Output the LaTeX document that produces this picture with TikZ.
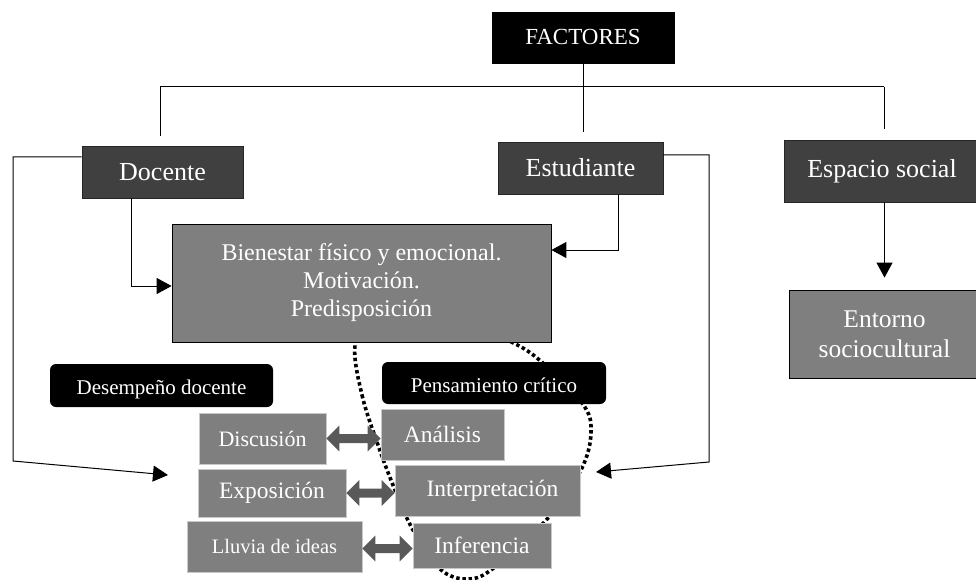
\documentclass[tikz,border=0pt]{standalone}
\usepackage{fontspec}
\setmainfont{Liberation Serif}
\usetikzlibrary{arrows.meta,calc}
\definecolor{dk}{HTML}{404040}
\definecolor{md}{HTML}{7F7F7F}
\definecolor{lt}{HTML}{C8C8C8}
\definecolor{ag}{HTML}{595959}
\begin{document}
\begin{tikzpicture}[x=1pt,y=-1pt,
  base/.style={inner sep=0pt, align=center, text=white},
  blk/.style={base, fill=black, draw=black},
  dkb/.style={base, fill=dk, draw=black!85, line width=0.8pt, font=\fontsize{26}{30}\selectfont},
  mdb/.style={base, fill=md, draw=black, line width=0.8pt},
  smb/.style={base, fill=md, draw=lt, line width=0.8pt, font=\fontsize{23.5}{27}\selectfont},
  rnd/.style={base, fill=black, rounded corners=6pt},
  con/.style={draw=black, line width=1pt},
  arr/.style={con, -{Triangle[length=15pt,width=16pt]}},
  dots/.style={draw=black, line width=3.6pt, dash pattern=on 3.4pt off 2.8pt},
  dbl/.style={fill=ag, draw=none}
]
\useasboundingbox (0,0) rectangle (976,580);

% dotted loop (behind everything)
\draw[dots] plot[smooth cycle, tension=0.6] coordinates {
  (355,345) (362,395) (378,445) (395,490) (413,530) (440,569) (468,579)
  (495,567) (548,518) (581,470) (591,432) (582,403) (537,358) (502,337)
  (440,305) (372,312)};

% nodes
\node[blk, minimum width=182pt, minimum height=51pt, font=\fontsize{23}{27}\selectfont] (fac) at (583,37.5) {FACTORES};
\node[dkb, minimum width=161pt, minimum height=52pt] (doc) at (162.5,172) {Docente};
\node[dkb, minimum width=165pt, minimum height=52pt] (est) at (580.5,168) {Estudiante};
\node[dkb, minimum width=196pt, minimum height=62pt] (esp) at (882,171) {Espacio social};
\node[mdb, minimum width=379pt, minimum height=118pt, font=\fontsize{24}{28}\selectfont] (bien) at (361.5,283)
  {Bienestar físico y emocional.\\Motivación.\\Predisposición};
\node[mdb, minimum width=191pt, minimum height=88pt, font=\fontsize{25.5}{30}\selectfont] (ent) at (884.5,334)
  {Entorno\\sociocultural};

\node[rnd, minimum width=223pt, minimum height=43pt] (des) at (161.5,385.5) {};
\begin{scope}
  \clip (des.north west) rectangle ([yshift=9pt]des.south east);
  \node[base, anchor=base, font=\fontsize{21}{24}\selectfont] (destext) at (161.5,394) {Desempeño docente};
\end{scope}
\node[rnd, minimum width=224pt, minimum height=42pt] (pen) at (494,383) {};
\node[base, anchor=base, font=\fontsize{21}{24}\selectfont] (pentext) at (494,392) {Pensamiento crítico};

\node[smb, minimum width=127pt, minimum height=51pt, font=\fontsize{22}{26}\selectfont] (disc) at (262.5,438.5) {Discusión};
\node[smb, minimum width=123pt, minimum height=51pt] (anal) at (442.5,434.5) {Análisis};
\node[smb, minimum width=148pt, minimum height=48pt] (expo) at (272,493) {Exposición};
\node[smb, minimum width=185pt, minimum height=51pt] (inte) at (487.5,490.5) {\hspace*{10pt}Interpretación};
\node[smb, minimum width=175pt, minimum height=51pt, font=\fontsize{20.5}{24}\selectfont] (lluv) at (274.5,546.5) {Lluvia de ideas};
\node[smb, minimum width=138pt, minimum height=45pt] (infe) at (482,545.5) {Inferencia};

% double block arrows
\fill[dbl] (disc.east) -- ++(13,-13) -- ++(0,8.5) -- ($(anal.west |- disc.east)+(-13,-4.5)$) -- ++(0,-8.5)
  -- (anal.west |- disc.east) -- ++(-13,13) -- ++(0,-8.5) -- ($(disc.east)+(13,4.5)$) -- ++(0,8.5) -- cycle;
\fill[dbl] (expo.east) -- ++(13,-13) -- ++(0,8.5) -- ($(inte.west |- expo.east)+(-13,-4.5)$) -- ++(0,-8.5)
  -- (inte.west |- expo.east) -- ++(-13,13) -- ++(0,-8.5) -- ($(expo.east)+(13,4.5)$) -- ++(0,8.5) -- cycle;
\fill[dbl] ([yshift=-2pt]lluv.east) -- ++(13,-13) -- ++(0,8.5) -- ($(infe.west |- 0,548.5)+(-13,-4.5)$) -- ++(0,-8.5)
  -- (infe.west |- 0,548.5) -- ++(-13,13) -- ++(0,-8.5) -- ($([yshift=-2pt]lluv.east)+(13,4.5)$) -- ++(0,8.5) -- cycle;

% tree
\coordinate (hl) at (160,87);
\coordinate (hr) at (884,87);
\draw[con] (fac.south) -- (fac.south |- 0,132);
\draw[con] (hl) -- (hr);
\draw[con] (hl) -- ++(0,49);
\draw[con] (hr) -- ++(0,42);

% connectors
\coordinate (dtip) at (168,475);
\coordinate (etip) at (596,472);
\draw[arr] ([yshift=15pt]doc.west) -- (13,157) -- (13,461) -- (dtip);
\draw[arr] ([yshift=13pt]est.east) -- (709,155) -- (709,462) -- (etip);
\draw[arr] ([xshift=-31.5pt]doc.south) |- ([yshift=-3pt]bien.west);
\draw[arr] ([xshift=37.5pt]est.south) |- ([yshift=33pt]bien.east);
\draw[arr, shorten >=12pt] (ent.north |- esp.south) -- (ent.north);
\end{tikzpicture}
\end{document}
